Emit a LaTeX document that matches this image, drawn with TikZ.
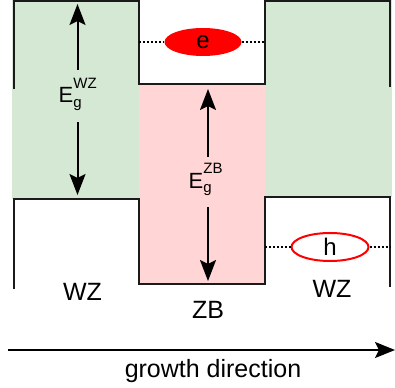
\documentclass[tikz,border=0pt]{standalone}
\usepackage{fontspec}
\setmainfont{Liberation Sans}
\usetikzlibrary{arrows.meta}
\definecolor{wzgreen}{HTML}{D5E8D4}
\definecolor{zbpink}{HTML}{FFD5D5}
\definecolor{band}{HTML}{1A1A1A}
\tikzset{
  bandline/.style={draw=band, line width=2pt, line join=miter},
  gaparrow/.style={line width=2pt, -{Stealth[length=21pt, width=16pt, inset=4pt]}},
  dotline/.style={line width=2pt, dash pattern=on 2pt off 2pt},
  carrier/.style={ellipse, minimum width=77pt, minimum height=28pt, inner sep=0pt, font=\fontsize{24}{26}\selectfont},
  lbl/.style={inner sep=0pt, font=\fontsize{25}{28}\selectfont, anchor=base},
  gaplbl/.style={inner sep=0pt, anchor=base west, font=\fontsize{22}{24}\selectfont},
}
\usetikzlibrary{shapes.geometric}
\newcommand{\subsup}[2]{E\rlap{\raisebox{14pt}{\fontsize{15}{15}\selectfont #1}}\raisebox{-4.5pt}{\fontsize{15}{15}\selectfont #2}}
\begin{document}
\begin{tikzpicture}[x=1pt, y=-1pt]
\useasboundingbox (0,0) rectangle (395,387);
% fills
\fill[wzgreen] (12,0) rectangle (139,199);
\fill[wzgreen] (265,0) rectangle (392,197);
\fill[zbpink] (139,84) rectangle (265,284);
% band edges
\draw[bandline] (14,89) -- (14,1) -- (139,1) -- (139,84) -- (265,84) -- (265,1) -- (390,1) -- (390,87);
\draw[bandline] (14,289) -- (14,199) -- (139,199) -- (139,284) -- (265,284) -- (265,197) -- (390,197) -- (390,287);
% carriers
\node[carrier, fill=red] (e) at (203,42) {e};
\node[carrier, fill=white, draw=red, line width=2pt] (h) at (330,247) {h};
\coordinate (eL) at (139,42);
\coordinate (eR) at (265,42);
\coordinate (hL) at (265,247);
\coordinate (hR) at (390,247);
\draw[dotline] (eL) -- (e.west);
\draw[dotline] (e.east) -- (eR);
\draw[dotline] (hL) -- (h.west);
\draw[dotline] (h.east) -- (hR);
% gap arrows
\node[gaplbl] (gwz) at (58.5,103) {\subsup{WZ}{g}};
\node[gaplbl] (gzb) at (188.5,188) {\subsup{ZB}{g}};
\coordinate (wzS1) at (77.5,70);
\coordinate (wzT1) at (77.5,4);
\coordinate (wzS2) at (77.5,122);
\coordinate (wzT2) at (77.5,195);
\coordinate (zbS1) at (208,157);
\coordinate (zbT1) at (208,89);
\coordinate (zbS2) at (208,207);
\coordinate (zbT2) at (208,281);
\draw[gaparrow] (wzS1) -- (wzT1);
\draw[gaparrow] (wzS2) -- (wzT2);
\draw[gaparrow] (zbS1) -- (zbT1);
\draw[gaparrow] (zbS2) -- (zbT2);
% region labels
\node[lbl] (l1) at (82.5,300) {WZ};
\node[lbl] (l2) at (208,318) {ZB};
\node[lbl] (l3) at (332,297) {WZ};
% growth direction
\coordinate (gA) at (8,350);
\coordinate (gB) at (395,350);
\draw[line width=2pt, -{Stealth[length=20pt, width=16pt, inset=4pt]}] (gA) -- (gB);
\node[lbl] (gd) at (213,377) {growth direction};
\end{tikzpicture}
\end{document}
